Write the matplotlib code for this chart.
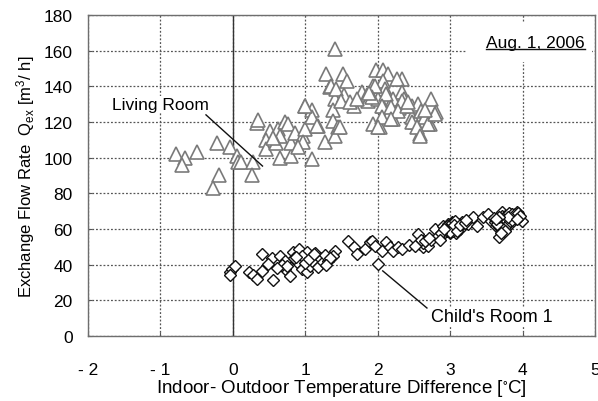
import matplotlib
matplotlib.use("Agg")
import matplotlib.pyplot as plt
from matplotlib.patches import Rectangle
from matplotlib.lines import Line2D

plt.rcParams['font.family'] = ['Liberation Sans', 'DejaVu Sans']
plt.rcParams['mathtext.default'] = 'regular'

# Living Room: temperature difference [°C] vs exchange flow rate [m3/h]
living_dt = [-0.79, -0.66, -0.70, -0.50, -0.22, -0.19, -0.28, -0.04, 0.06, 0.07,
             0.11, 0.28, 0.26, 0.34, 0.35, 0.51, 0.46, 0.46, 0.62, 0.72,
             0.76, 0.65, 0.60, 0.65, 0.81, 0.81, 0.86, 0.97, 0.99, 0.99,
             1.10, 1.10, 0.97, 1.10, 1.17, 1.27, 1.41, 1.28, 1.52, 1.57,
             1.34, 1.41, 1.54, 1.38, 1.38, 1.45, 1.41, 1.68, 1.79, 1.85,
             1.86, 1.93, 1.98, 2.07, 2.14, 2.07, 2.10, 2.00, 2.07, 1.93,
             2.03, 2.17, 2.21, 2.33, 2.26, 2.33, 2.21, 2.37, 2.30, 2.47,
             2.55, 2.58, 2.61, 2.58, 2.74, 2.81, 2.72, 2.47, 2.51, 1.36,
             1.43, 1.50, 1.48, 1.16, 1.00, 1.96, 1.92, 2.12, 2.34, 2.06,
             2.19, 2.28, 2.40, 2.06, 2.19, 2.00, 2.48, 2.60, 2.65, 2.69,
             2.79, 2.54, 2.58, 1.62, 1.72, 1.88, 2.42, 2.66, 0.90, 0.55]
living_q = [102, 100, 96, 103, 108, 90, 83, 106, 101, 97.5,
            97.5, 97.5, 90, 119.5, 121, 115, 110, 105, 116, 120,
            119, 112, 108, 100, 101, 108, 114, 112, 116, 129,
            127, 99, 109, 123, 118, 109, 161, 147, 147, 143,
            139.6, 133, 135, 127, 120.6, 117, 112, 129, 137, 135,
            132, 140, 149, 149, 147, 143, 138.5, 133, 129, 119,
            117, 125.6, 121.7, 144, 144, 137, 133, 133, 128, 129,
            130, 123, 119, 113, 133, 125.6, 119, 123, 120, 140,
            138.5, 132, 117, 118, 129, 140, 134, 135.7, 132, 129,
            128.4, 126, 129, 123, 121.7, 117, 120, 126, 123, 119,
            124.5, 117, 112, 131, 133, 136, 131, 127, 106, 111]

# Child's Room 1
child_dt = [-0.04, -0.01, 0.03, -0.04, 0.23, 0.28, 0.34, 0.40, 0.55, 0.41,
            0.54, 0.65, 0.72, 0.72, 0.79, 0.83, 0.88, 0.92, 0.95, 0.99,
            1.03, 1.02, 1.06, 1.10, 1.20, 1.17, 1.24, 1.31, 1.41, 1.38,
            1.59, 1.68, 1.72, 1.82, 1.89, 1.92, 1.96, 2.00, 2.06, 2.12,
            2.17, 2.21, 2.28, 2.34, 2.55, 2.58, 2.62, 2.69, 2.74, 2.79,
            2.83, 2.90, 2.95, 2.99, 3.03, 3.07, 3.13, 3.17, 3.24, 3.31,
            3.37, 3.45, 3.52, 3.57, 3.64, 3.68, 3.71, 3.78, 3.82, 3.89,
            3.93, 3.99, 3.00, 3.05, 3.10, 2.97, 3.08, 3.15, 3.02, 2.93,
            3.70, 3.75, 3.80, 3.85, 3.66, 3.73, 3.87, 3.95, 3.62, 3.77,
            3.83, 3.90, 3.60, 3.72, 0.68, 0.85, 1.14, 1.27, 2.43, 2.63,
            2.98, 3.01, 3.04, 3.06, 3.09, 3.11, 2.96, 3.02, 3.07, 3.12,
            2.94, 3.00, 3.05, 3.10, 3.14, 2.88, 2.86, 2.91, 3.20, 3.22,
            3.74, 3.76, 3.79, 3.81, 3.84, 3.86, 3.88, 3.91, 3.69, 3.71,
            3.74, 3.78, 3.82, 3.86, 3.90, 3.94, 3.68, 3.72, 3.76, 3.80,
            3.65, 3.70, 3.67, 3.63, 3.96, 3.92, 2.60, 2.66, 2.71, 2.52,
            0.96, 1.00, 1.05, 1.12, 0.87, 1.34, 1.29, 0.75, 0.61, 0.48]
child_q = [36, 37.6, 39, 34, 36, 34, 32, 36.5, 31.4, 46,
           43.7, 45, 42, 37.6, 33.7, 47, 41.5, 48.8, 37.6, 44,
           47, 36, 39, 42, 44, 38.7, 41.5, 42, 47.7, 45,
           53, 50, 46, 48.8, 52.7, 53, 50.5, 40.4, 47.7, 52.7,
           50, 47.7, 50, 48.8, 57, 51.6, 50, 50.5, 54, 60,
           56, 61.7, 59, 61, 62.8, 60.5, 60, 64, 62.8, 66.7,
           61.7, 66.7, 68.4, 64.5, 61.7, 55.5, 69.5, 66.7, 68.4, 67.3,
           69.5, 64.5, 58, 59.5, 61.5, 63, 57.5, 62, 64, 58.5,
           65, 63.5, 66, 68, 62.5, 60, 65.5, 67, 64, 61.5,
           63, 66, 66, 67.5, 40, 44, 46.5, 45.5, 51, 52,
           60, 61, 59, 62, 60.5, 63, 61.5, 63.5, 64.5, 61,
           59.5, 58.5, 62.5, 59, 62, 58, 54, 60, 63.5, 65,
           64.5, 67.5, 65, 69, 66.5, 68.5, 66, 68, 66, 64,
           63, 62, 64.5, 65, 68.5, 69, 61, 60.5, 59, 66.5,
           63, 58, 67, 65.5, 67.5, 65.5, 54, 53, 55, 50.5,
           45, 41, 43, 46, 44.5, 44, 40, 39, 38, 40.5]

x_ticks = [-2, -1, 0, 1, 2, 3, 4, 5]
x_tick_labels = ['- 2', '- 1', '0', '1', '2', '3', '4', '5']
y_ticks = [0, 20, 40, 60, 80, 100, 120, 140, 160, 180]

fig = plt.figure(figsize=(5.98, 4.02), dpi=100)
ax = fig.add_axes([0.147, 0.1617, 0.848, 0.7985])

ax.set_xlim(-2, 5)
ax.set_ylim(0, 180)
ax.set_xticks(x_ticks)
ax.set_xticklabels(x_tick_labels)
ax.set_yticks(y_ticks)
ax.tick_params(axis='x', direction='in', length=3, pad=19, labelsize=12.5, color='#555555')
ax.tick_params(axis='y', direction='in', length=3, pad=11, labelsize=12.5, color='#555555')
for s in ax.spines.values():
    s.set_color('#6e6e6e')
    s.set_linewidth(1.0)

ax.grid(True, linestyle=(0, (1.5, 1.5)), color='#555555', linewidth=0.9)
ax.set_axisbelow(True)
ax.axvline(0, color='#333333', linewidth=1.0, zorder=1.5)

# white area behind the date stamp
ax.add_patch(Rectangle((0.745, 0.854), 0.25, 0.124, transform=ax.transAxes,
                       facecolor='white', edgecolor='none', zorder=1.2))

ax.plot(living_dt, living_q, linestyle='none', marker='^', markersize=10,
        markerfacecolor='white', markeredgecolor='#7a7a7a', markeredgewidth=1.2, zorder=3)
ax.plot(child_dt, child_q, linestyle='none', marker='D', markersize=6,
        markerfacecolor='white', markeredgecolor='#111111', markeredgewidth=1.0, zorder=4)

# series labels with leader lines
ax.plot([-0.37, 0.41], [124, 95.3], color='#111111', linewidth=1.0, zorder=5)
ax.text(-1.0, 130, 'Living Room', fontsize=12.5, ha='center', va='center', zorder=6,
        bbox=dict(facecolor='white', edgecolor='none', pad=0.5))
ax.plot([2.07, 2.68], [36.5, 15.7], color='#111111', linewidth=1.0, zorder=5)
ax.text(2.74, 10.7, "Child's Room 1", fontsize=13, ha='left', va='center', zorder=6,
        bbox=dict(facecolor='white', edgecolor='none', pad=0.5))

date_txt = ax.text(0.786, 0.915, 'Aug. 1, 2006', transform=ax.transAxes,
                   fontsize=12.5, ha='left', va='center', zorder=6)

ax.set_ylabel('Exchange Flow Rate  Q$_{ex}$ [m$^{3}$/ h]', fontsize=12, labelpad=5)
ax.set_xlabel('Indoor- Outdoor Temperature Difference [$^{\\circ}$C]', fontsize=13.5, labelpad=0)

# underline the date stamp
fig.canvas.draw()
bb = date_txt.get_window_extent()
inv = fig.transFigure.inverted()
(x0, y0), (x1, _) = inv.transform([(bb.x0, bb.y0 + 1), (bb.x1, bb.y0 + 1)])
fig.add_artist(Line2D([x0, x1], [y0, y0], transform=fig.transFigure,
                      color='#111111', linewidth=1.0))

fig.savefig('out.png', dpi=100)
